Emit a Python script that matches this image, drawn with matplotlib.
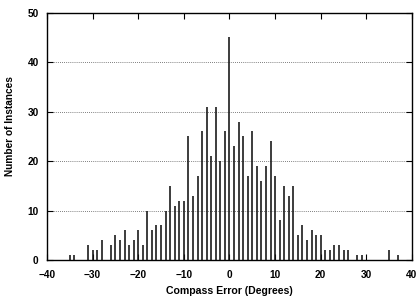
import matplotlib
matplotlib.use("Agg")
import matplotlib.pyplot as plt

# compass error (degrees) -> number of instances
errors = [-35, -34, -31, -30, -29, -28, -26, -25, -24, -23, -22, -21, -20, -19,
          -18, -17, -16, -15, -14, -13, -12, -11, -10, -9, -8, -7, -6, -5, -4,
          -3, -2, -1, 0, 1, 2, 3, 4, 5, 6, 7, 8, 9, 10, 11, 12, 13, 14, 15, 16,
          17, 18, 19, 20, 21, 22, 23, 24, 25, 26, 28, 29, 35, 37]
counts = [1, 1, 3, 2, 2, 4, 3, 5, 4, 6, 3, 4, 6, 3,
          10, 6, 7, 7, 10, 15, 11, 12, 12, 25, 13, 17, 26, 31, 21,
          31, 20, 26, 45, 23, 28, 25, 17, 26, 19, 16, 19, 24, 17, 8, 15, 13, 15, 5, 7,
          4, 6, 5, 5, 2, 2, 3, 3, 2, 2, 1, 1, 2, 1]
xticks = list(range(-40, 41, 10))
yticks = list(range(0, 51, 10))

plt.rcParams['font.family'] = ['Liberation Sans', 'DejaVu Sans']
plt.rcParams['font.weight'] = 'bold'

fig = plt.figure(figsize=(4.18, 2.99), dpi=100)
ax = fig.add_axes([0.1124, 0.1304, 0.8732, 0.8271])

# impulses
ax.vlines(errors, 0, counts, colors='#111111', linewidth=1.15, zorder=3)

ax.set_xlim(-40, 40)
ax.set_ylim(0, 50)
ax.set_xticks(xticks)
ax.set_yticks(yticks)
ax.tick_params(direction='in', length=4, width=0.8, labelsize=7.3,
               top=True, right=True)
ax.tick_params(axis='x', pad=7)
ax.tick_params(axis='y', pad=6)
for lab in ax.get_xticklabels() + ax.get_yticklabels():
    lab.set_fontweight('bold')

# horizontal dotted grid only
ax.yaxis.grid(True, linestyle=(0, (1, 1.5)), color='#555555', linewidth=0.6)
ax.set_axisbelow(True)

for s in ax.spines.values():
    s.set_linewidth(1.0)

ax.set_xlabel('Compass Error (Degrees)', fontsize=7.6, fontweight='bold')
ax.set_ylabel('Number of Instances', fontsize=7.3, fontweight='bold')
ax.xaxis.set_label_coords(0.5, -0.105)
ax.yaxis.set_label_coords(-0.088, 0.54)

fig.savefig('out.png', dpi=100)
